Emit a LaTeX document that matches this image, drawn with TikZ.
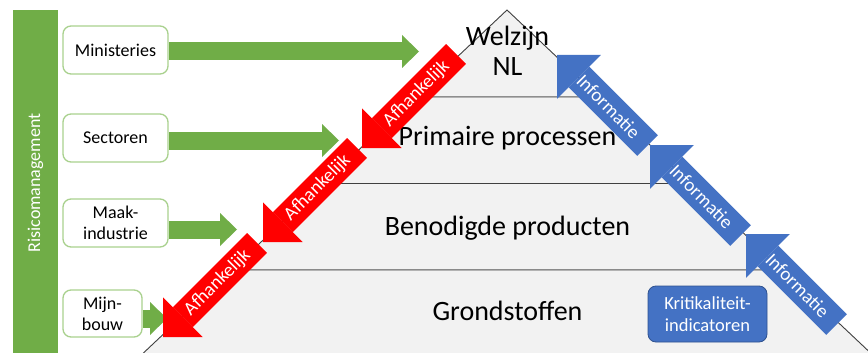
\documentclass[tikz,border=0pt]{standalone}
\usepackage{fontspec}
\setmainfont{Carlito}
\usetikzlibrary{arrows.meta}
\definecolor{pgreen}{HTML}{70AD47}
\definecolor{lgreen}{HTML}{A9D18E}
\definecolor{pblue}{HTML}{4472C4}
\definecolor{dblue}{HTML}{2F528F}
\definecolor{pgray}{HTML}{F2F2F2}
\definecolor{lgray}{HTML}{404040}
\begin{document}
\begin{tikzpicture}[x=1pt,y=-1pt,
  layer/.style={fill=pgray,draw=lgray,line width=0.9pt,line join=miter},
  lvltext/.style={font=\fontsize{28}{30}\selectfont,anchor=base,inner sep=0pt},
  sidebox/.style={draw=lgreen,line width=1.3pt,fill=white,rounded corners=8pt,align=center,
    font=\fontsize{18}{21}\selectfont,inner sep=0pt,minimum height=48pt},
  greenarrow/.style={draw=pgreen,line width=18pt,-{Triangle[length=17pt,width=33pt,line width=0pt]}},
  redarrow/.style={draw=red,line width=28pt,-{Triangle[length=28pt,width=56pt,line width=0pt]}},
  bluearrow/.style={draw=pblue,line width=29pt,-{Triangle[length=31pt,width=62pt,line width=0pt]}},
  arrowtext/.style={text=white,font=\fontsize{19}{20}\selectfont,inner sep=0pt}
]
\useasboundingbox (0,0) rectangle (868,353);
\clip (0,0) rectangle (868,353);
\fill[white] (0,0) rectangle (868,353);

% pyramid
\coordinate (apex) at (507,10);
\coordinate (l1) at (414.8,97);   \coordinate (r1) at (599.2,97);
\coordinate (l2) at (323.1,183.5); \coordinate (r2) at (690.9,183.5);
\coordinate (l3) at (231.4,270);  \coordinate (r3) at (782.6,270);
\coordinate (l4) at (139.7,356.5); \coordinate (r4) at (874.3,356.5);
\draw[layer] (apex) -- (r1) -- (l1) -- cycle;
\draw[layer] (l1) -- (r1) -- (r2) -- (l2) -- cycle;
\draw[layer] (l2) -- (r2) -- (r3) -- (l3) -- cycle;
\draw[layer] (l3) -- (r3) -- (r4) -- (l4) -- cycle;

\node[lvltext] (welzijn) at (507.5,46) {Welzijn};
\node[lvltext] (nl) at (507.5,76) {NL};
\node[lvltext] (prim) at (507.5,146) {Primaire processen};
\node[lvltext] (beno) at (507.5,235) {Benodigde producten};
\node[lvltext] (grond) at (507.5,320.5) {Grondstoffen};

% green boxes and arrows
\node[sidebox,minimum width=105pt] (m) at (115.5,50) {Ministeries};
\node[sidebox,minimum width=105pt] (s) at (115.5,138) {Sectoren};
\node[sidebox,minimum width=105pt] (mi) at (115.5,223) {Maak-\\industrie};
\node[sidebox,minimum width=79pt,minimum height=47pt] (mb) at (102.5,313.5) {Mijn-\\bouw};
\coordinate (g1) at (419,51.5);
\coordinate (g2) at (339,140.5);
\coordinate (g3) at (237,229.5);
\coordinate (g4) at (167,318.5);
\draw[greenarrow] ([xshift=0.65pt]m.east |- g1) -- (g1);
\draw[greenarrow] ([xshift=0.65pt]s.east |- g2) -- (g2);
\draw[greenarrow] ([xshift=0.65pt]mi.east |- g3) -- (g3);
\draw[greenarrow] ([xshift=0.65pt]mb.east |- g4) -- (g4);

% red arrows
\coordinate (r1t) at (362,148); \coordinate (r1c) at (456,54);
\coordinate (r2t) at (263,242); \coordinate (r2c) at (357,148);
\coordinate (r3t) at (163,337); \coordinate (r3c) at (257,243);
\draw[redarrow] (r3c) -- node[arrowtext,sloped,pos=0.42] (a3) {Afhankelijk} (r3t);
\draw[redarrow] (r2c) -- node[arrowtext,sloped,pos=0.42] (a2) {Afhankelijk} (r2t);
\draw[redarrow] (r1c) -- node[arrowtext,sloped,pos=0.42] (a1) {Afhankelijk} (r1t);

% blue arrows
\coordinate (b1t) at (557,55);  \coordinate (b1c) at (647.5,145.5);
\coordinate (b2t) at (650,145); \coordinate (b2c) at (740.5,235.5);
\coordinate (b3t) at (746,234); \coordinate (b3c) at (836.5,324.5);
\draw[bluearrow] (b1c) -- node[arrowtext,sloped,pos=0.43] (i1) {Informatie} (b1t);
\draw[bluearrow] (b2c) -- node[arrowtext,sloped,pos=0.43] (i2) {Informatie} (b2t);
\draw[bluearrow] (b3c) -- node[arrowtext,sloped,pos=0.43] (i3) {Informatie} (b3t);

\node[fill=pblue,draw=dblue,line width=0.8pt,rounded corners=8pt,minimum width=119pt,minimum height=56pt,
  text=white,align=center,font=\fontsize{18.5}{22}\selectfont,inner sep=0pt] (krit) at (707.5,314)
  {Kritikaliteit-\\indicatoren};

% side bar
\node[fill=pgreen,rotate=90,minimum width=346pt,minimum height=45pt,inner sep=0pt,text=white,
  font=\fontsize{18}{20}\selectfont] (bar) at (35.5,183) {Risicomanagement};
\end{tikzpicture}
\end{document}
